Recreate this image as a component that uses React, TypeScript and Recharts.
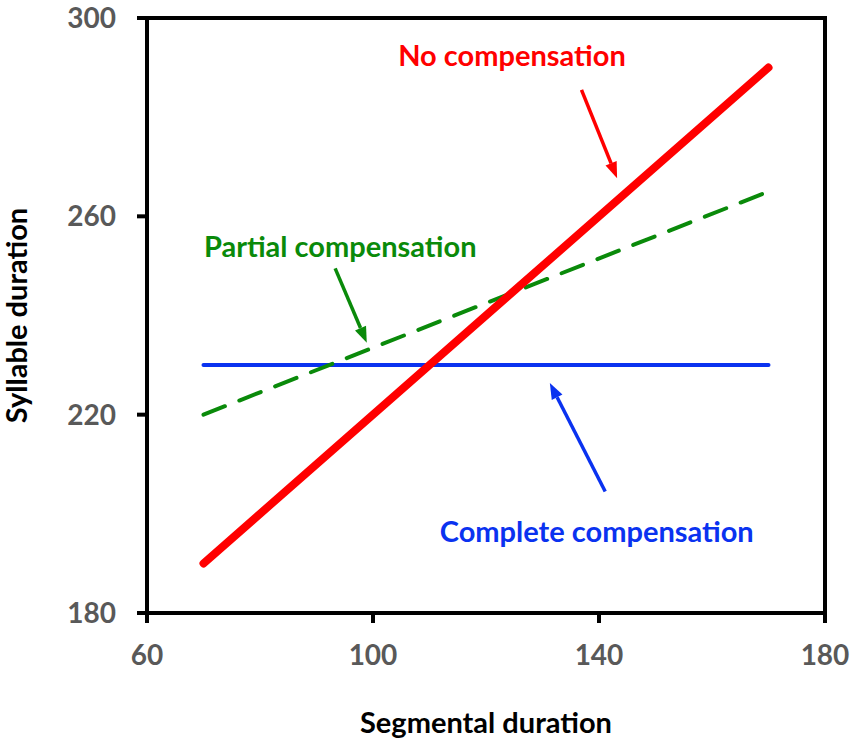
import React from 'react';
import { Label, Line, LineChart, ReferenceArea, ReferenceDot, ReferenceLine, XAxis, YAxis } from 'recharts';

// segmental duration at the two ends of each line
const segmental = [70, 170];
const noCompensation = [190, 290];
const partialCompensation = [220, 265];
const completeCompensation = [230, 230];

const xTicks = [60, 100, 140, 180];
const yTicks = [180, 220, 260, 300];

// annotations (data coordinates)
const noteTexts = ['No compensation', 'Partial compensation', 'Complete compensation'];
const noteColors = ['#ff0000', '#0a8a0a', '#0a32f0'];
const noteX = [124.6, 94.2, 139.6];
const noteY = [290.3, 251.8, 194.4];
const arrowFromX = [136.9, 93.3, 141.1];
const arrowFromY = [285.5, 249.5, 204.5];
const arrowToX = [143.2, 98.9, 131.3];
const arrowToY = [267.7, 234.5, 226.4];

const data = segmental.map((x, i) => ({
  x,
  none: noCompensation[i],
  partial: partialCompensation[i],
  complete: completeCompensation[i],
}));

const FONT = 'Lato, "Open Sans", sans-serif';
const TICK_STYLE = { fill: '#595959', fontSize: 28, fontWeight: 700, fontFamily: FONT };
const AXIS_LINE = { stroke: '#000', strokeWidth: 4 };

function arrowShape(color: string) {
  return (props: any) => {
    const { x1, y1, x2, y2 } = props;
    const ang = Math.atan2(y2 - y1, x2 - x1);
    const len = 16;
    const half = 6;
    const bx = x2 - len * Math.cos(ang);
    const by = y2 - len * Math.sin(ang);
    const pts = [
      [x2, y2],
      [bx + half * Math.sin(ang), by - half * Math.cos(ang)],
      [bx - half * Math.sin(ang), by + half * Math.cos(ang)],
    ];
    return (
      <g>
        <line x1={x1} y1={y1} x2={bx} y2={by} stroke={color} strokeWidth={3.5} />
        <polygon points={pts.map((p) => p.join(',')).join(' ')} fill={color} />
      </g>
    );
  };
}

function textShape(text: string, color: string) {
  return (props: any) => (
    <text x={props.cx} y={props.cy} textAnchor="middle" fill={color} fontSize={29} fontWeight={700} fontFamily={FONT}>
      {text}
    </text>
  );
}

export default function App() {
  return (
    <div style={{ position: 'absolute', left: 0, top: 0, background: '#fff' }}>
      <LineChart width={854} height={746} data={data} margin={{ top: 18, right: 29, left: 0, bottom: 0 }}>
        <XAxis
          type="number"
          dataKey="x"
          domain={[60, 180]}
          ticks={xTicks}
          allowDataOverflow
          height={133}
          axisLine={AXIS_LINE}
          tickLine={AXIS_LINE}
          tickSize={10}
          tickMargin={22}
          tick={TICK_STYLE}
        >
          <Label
            value="Segmental duration"
            position="insideBottom"
            offset={13}
            style={{ fill: '#000', fontSize: 29, fontWeight: 700, fontFamily: FONT }}
          />
        </XAxis>
        <YAxis
          type="number"
          domain={[180, 300]}
          ticks={yTicks}
          allowDataOverflow
          width={147}
          axisLine={AXIS_LINE}
          tickLine={AXIS_LINE}
          tickSize={10}
          tickMargin={21}
          tick={TICK_STYLE}
        >
          <Label
            value="Syllable duration"
            position="insideLeft"
            angle={-90}
            offset={17}
            style={{ fill: '#000', fontSize: 29, fontWeight: 700, fontFamily: FONT, textAnchor: 'middle' }}
          />
        </YAxis>
        <ReferenceArea x1={60} x2={180} y1={180} y2={300} fill="none" stroke="#000" strokeWidth={4} />
        <Line
          dataKey="complete"
          stroke="#0a32f0"
          strokeWidth={4}
          strokeLinecap="round"
          dot={false}
          isAnimationActive={false}
        />
        <Line
          dataKey="partial"
          stroke="#0a8a0a"
          strokeWidth={4}
          strokeDasharray="23 15.5"
          strokeLinecap="round"
          dot={false}
          isAnimationActive={false}
        />
        <Line
          dataKey="none"
          stroke="#ff0000"
          strokeWidth={8}
          strokeLinecap="round"
          dot={false}
          isAnimationActive={false}
        />
        {noteTexts.map((t, i) => (
          <ReferenceLine
            key={`arrow-${t}`}
            segment={[
              { x: arrowFromX[i], y: arrowFromY[i] },
              { x: arrowToX[i], y: arrowToY[i] },
            ]}
            shape={arrowShape(noteColors[i])}
          />
        ))}
        {noteTexts.map((t, i) => (
          <ReferenceDot key={`note-${t}`} x={noteX[i]} y={noteY[i]} r={0} shape={textShape(t, noteColors[i])} />
        ))}
      </LineChart>
    </div>
  );
}
